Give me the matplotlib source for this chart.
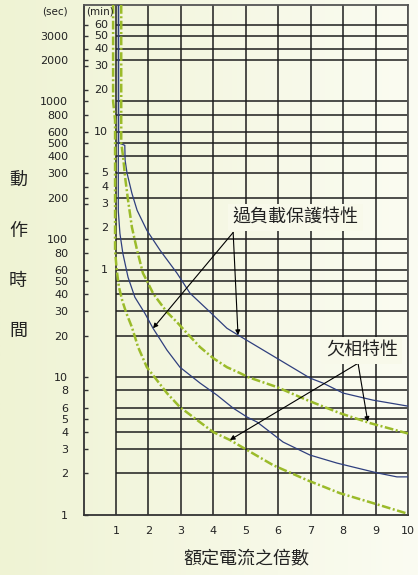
import numpy as np
import matplotlib
matplotlib.use("Agg")
import matplotlib.pyplot as plt
from matplotlib.colors import LinearSegmentedColormap
from matplotlib.ticker import FixedLocator, NullFormatter

# ---- data ----
sec_ticks = [1, 2, 3, 4, 5, 6, 8, 10, 20, 30, 40, 50, 60, 80, 100,
             200, 300, 400, 500, 600, 800, 1000, 2000, 3000]
min_ticks = [1, 2, 3, 4, 5, 10, 20, 30, 40, 50, 60]
grid_secs = [2, 3, 4, 5, 6, 8, 10, 20, 30, 40, 50, 60, 80, 100,
             200, 300, 400, 500, 600, 800, 1000, 2000, 2400, 3000, 3600]
x_ticks = [1, 2, 3, 4, 5, 6, 7, 8, 9, 10]

overload_hi_x = [1.08, 1.08, 1.27, 1.28, 1.34, 1.49, 1.65, 1.95, 2.36, 2.88, 3.28,
                 3.9, 4.42, 4.76, 6.05, 6.98, 7.38, 8.0, 8.92, 10.0]
overload_hi_y = [5000, 500, 480, 374, 301, 215, 162, 116, 83, 56.7, 40.6,
                 29.6, 22.6, 20.2, 13.3, 9.84, 9.05, 7.66, 6.81, 6.16]

overload_lo_x = [1.07, 1.07, 1.12, 1.21, 1.37, 1.58, 1.89, 2.14, 2.57, 2.97, 3.59,
                 4.11, 4.61, 5.04, 5.35, 6.15, 6.98, 7.81, 8.3, 9.05, 9.66, 10.0]
overload_lo_y = [5000, 160, 110, 79, 53, 38, 29, 22.6, 15.7, 11.8, 9.05,
                 7.41, 5.96, 5.13, 4.72, 3.38, 2.72, 2.38, 2.23, 2.02, 1.89, 1.89]

phase_hi_x = [1.16, 1.16, 1.22, 1.28, 1.37, 1.49, 1.65, 1.83, 1.95, 2.14, 2.30, 2.57,
              2.88, 3.19, 3.59, 4.0, 4.42, 4.82, 5.07, 5.96, 6.89, 7.9, 8.83, 10.0]
phase_hi_y = [5000, 500, 393, 281, 192, 122, 83, 56.7, 50, 40.6, 36, 29.6,
              25, 20.8, 16.5, 13.7, 11.8, 10.7, 10.0, 8.47, 6.81, 5.48, 4.64, 3.9]

phase_lo_x = [0.91, 0.91, 0.97, 0.97, 1.02, 1.09, 1.19, 1.32, 1.49, 1.68, 1.95, 2.26,
              2.57, 2.97, 3.5, 4.0, 4.51, 5.04, 5.84, 6.89, 7.9, 8.92, 10.0]
phase_lo_y = [5000, 1000, 730, 83, 60, 45, 36, 29, 23, 16.5, 11.8, 9.5,
              7.65, 6.06, 4.88, 3.99, 3.5, 2.96, 2.3, 1.79, 1.44, 1.22, 1.02]

overload_label = "過負載保護特性"
phase_label = "欠相特性"
ylabel_chars = ["動", "作", "時", "間"]
xlabel = "額定電流之倍數"

BLUE = "#2f3f7e"
GREEN = "#9bbb2a"
BG = "#f8f9ea"
CJK = ["Noto Sans CJK TC", "DejaVu Sans"]

fig = plt.figure(figsize=(4.18, 5.75), dpi=100)

# soft horizontal gradient behind everything
bg = fig.add_axes([0, 0, 1, 1], zorder=-10)
cmap = LinearSegmentedColormap.from_list("bg", ["#eff3d4", "#fbfcf2"])
bg.imshow(np.linspace(0, 1, 256).reshape(1, -1), cmap=cmap, aspect="auto",
          extent=[0, 1, 0, 1])
bg.axis("off")

ax = fig.add_axes([83.6 / 418, 60 / 575, (408 - 83.6) / 418, 510 / 575])
ax.set_facecolor("none")
ax.set_yscale("log")
ax.set_xlim(0, 10)
ax.set_ylim(1, 5000)

# grid
ax.hlines(grid_secs, 1, 10, colors="#1e1e1e", lw=1.1, zorder=1)
ax.vlines(x_ticks, 1, 5000, colors="#1e1e1e", lw=1.1, zorder=1)

# curves
ax.plot(overload_hi_x, overload_hi_y, color=BLUE, lw=0.9, zorder=3)
ax.plot(overload_lo_x, overload_lo_y, color=BLUE, lw=0.9, zorder=3)
dd = (0, (3.5, 1.0, 0.8, 1.0))
ax.plot(phase_hi_x, phase_hi_y, color=GREEN, lw=1.8, ls=dd, zorder=3)
ax.plot(phase_lo_x, phase_lo_y, color=GREEN, lw=1.8, ls=dd, zorder=3)

# labels with arrows
arrow = dict(arrowstyle="-|>", color="black", lw=0.8, mutation_scale=7,
             shrinkA=0, shrinkB=0)
apex1 = (4.61, 112)
for tip in [(overload_lo_x[7], overload_lo_y[7]), (overload_hi_x[13], overload_hi_y[13])]:
    ax.annotate("", xy=tip, xytext=apex1, arrowprops=arrow, zorder=4)
apex2 = (8.46, 12.6)
for tip in [(8.76, 4.75), (4.51, 3.5)]:
    ax.annotate("", xy=tip, xytext=apex2, arrowprops=arrow, zorder=4)

box = dict(boxstyle="square,pad=0.25", fc=BG, ec="none")
ax.text(6.52, 144, overload_label, ha="center", va="center", fontsize=13,
        family=CJK, color="#222222", bbox=box, zorder=5)
ax.text(8.58, 15.7, phase_label, ha="center", va="center", fontsize=13,
        family=CJK, color="#222222", bbox=box, zorder=5)

# axes styling
for s in ["left", "bottom"]:
    ax.spines[s].set_color("#333333")
    ax.spines[s].set_linewidth(1.3)
for s in ["top", "right"]:
    ax.spines[s].set_color("#555555")
    ax.spines[s].set_linewidth(1.3)

ax.set_xticks(x_ticks)
ax.set_xticklabels([str(v) for v in x_ticks])
ax.tick_params(axis="x", length=0, pad=8, labelsize=8, labelcolor="#222222")

ax.yaxis.set_major_locator(FixedLocator(sec_ticks))
ax.set_yticklabels([str(v) for v in sec_ticks])
ax.yaxis.set_minor_locator(FixedLocator([m * 60 for m in min_ticks]))
ax.yaxis.set_minor_formatter(NullFormatter())
ax.tick_params(axis="y", which="both", direction="in", length=3, width=1,
               color="#333333", pad=11, labelsize=8, labelcolor="#222222")

for m in min_ticks:
    ax.text(0.76, m * 60, str(m), ha="right", va="center", fontsize=8,
            color="#222222")

fig.text(55 / 418, 1 - 12 / 575, "(sec)", ha="center", va="center", fontsize=7.5,
         color="#222222")
fig.text(100 / 418, 1 - 12 / 575, "(min)", ha="center", va="center", fontsize=7.5,
         color="#222222")

for i, ch in enumerate(ylabel_chars):
    fig.text(18 / 418, 1 - (181 + 50 * i) / 575, ch, ha="center", va="center",
             fontsize=13, family=CJK, color="#222222")
fig.text(246 / 418, 1 - 558 / 575, xlabel, ha="center", va="center",
         fontsize=13, family=CJK, color="#222222")

fig.savefig("out.png", dpi=100)
